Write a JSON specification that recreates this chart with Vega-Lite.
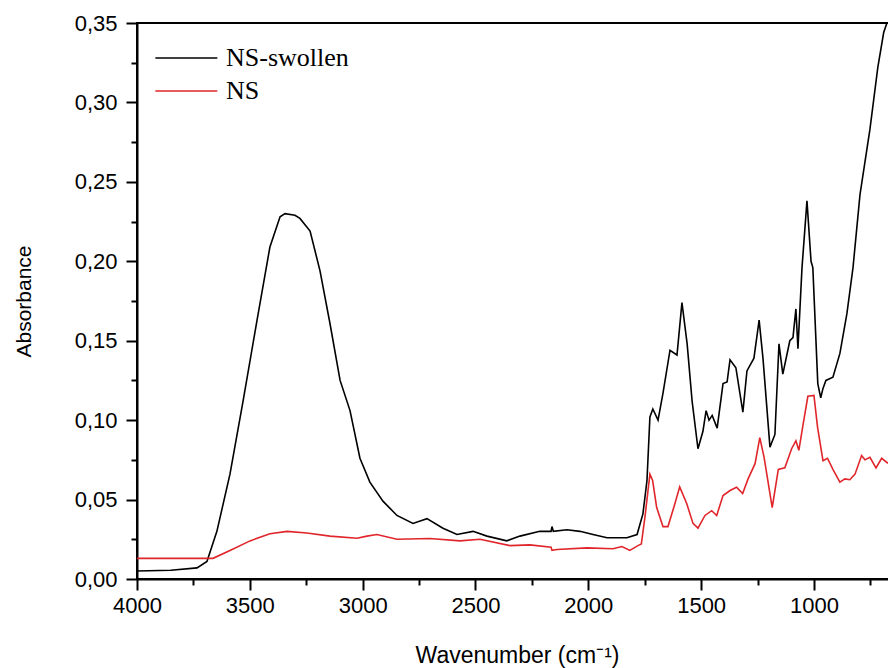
{
  "$schema": "https://vega.github.io/schema/vega-lite/v6.json",
  "autosize": "none",
  "padding": {"left": 137, "top": 23, "right": 0, "bottom": 89},
  "width": 760,
  "height": 556,
  "background": "white",
  "config": {
    "view": {"stroke": "#000000", "strokeWidth": 2},
    "font": "Liberation Sans"
  },
  "datasets": {
    "swollen": [
      {"w": 4000, "a": 0.005}, {"w": 3850, "a": 0.0055}, {"w": 3734, "a": 0.007}, {"w": 3690, "a": 0.011},
      {"w": 3646, "a": 0.030}, {"w": 3588, "a": 0.066}, {"w": 3530, "a": 0.112}, {"w": 3468, "a": 0.163},
      {"w": 3411, "a": 0.209}, {"w": 3366, "a": 0.228}, {"w": 3344, "a": 0.230}, {"w": 3300, "a": 0.229},
      {"w": 3278, "a": 0.227}, {"w": 3233, "a": 0.219}, {"w": 3189, "a": 0.194}, {"w": 3145, "a": 0.161},
      {"w": 3100, "a": 0.125}, {"w": 3056, "a": 0.106}, {"w": 3012, "a": 0.076}, {"w": 2968, "a": 0.061},
      {"w": 2910, "a": 0.049}, {"w": 2848, "a": 0.040}, {"w": 2777, "a": 0.035}, {"w": 2715, "a": 0.038},
      {"w": 2644, "a": 0.032}, {"w": 2582, "a": 0.028}, {"w": 2511, "a": 0.030}, {"w": 2449, "a": 0.027},
      {"w": 2361, "a": 0.024}, {"w": 2303, "a": 0.027}, {"w": 2215, "a": 0.030}, {"w": 2165, "a": 0.030},
      {"w": 2161, "a": 0.033}, {"w": 2155, "a": 0.030}, {"w": 2095, "a": 0.031}, {"w": 2037, "a": 0.030},
      {"w": 1979, "a": 0.028}, {"w": 1917, "a": 0.026}, {"w": 1829, "a": 0.026}, {"w": 1784, "a": 0.028},
      {"w": 1758, "a": 0.041}, {"w": 1740, "a": 0.062}, {"w": 1727, "a": 0.102}, {"w": 1714, "a": 0.107},
      {"w": 1691, "a": 0.100}, {"w": 1669, "a": 0.117}, {"w": 1638, "a": 0.144}, {"w": 1607, "a": 0.141},
      {"w": 1585, "a": 0.174}, {"w": 1562, "a": 0.148}, {"w": 1540, "a": 0.112}, {"w": 1514, "a": 0.082},
      {"w": 1492, "a": 0.093}, {"w": 1478, "a": 0.106}, {"w": 1465, "a": 0.100}, {"w": 1451, "a": 0.103},
      {"w": 1429, "a": 0.095}, {"w": 1403, "a": 0.123}, {"w": 1385, "a": 0.124}, {"w": 1372, "a": 0.138},
      {"w": 1346, "a": 0.133}, {"w": 1315, "a": 0.105}, {"w": 1297, "a": 0.131}, {"w": 1266, "a": 0.139},
      {"w": 1243, "a": 0.163}, {"w": 1226, "a": 0.139}, {"w": 1195, "a": 0.083}, {"w": 1173, "a": 0.091},
      {"w": 1155, "a": 0.148}, {"w": 1138, "a": 0.129}, {"w": 1107, "a": 0.150}, {"w": 1093, "a": 0.152},
      {"w": 1080, "a": 0.170}, {"w": 1071, "a": 0.145}, {"w": 1053, "a": 0.196}, {"w": 1031, "a": 0.238},
      {"w": 1013, "a": 0.200}, {"w": 1005, "a": 0.196}, {"w": 983, "a": 0.123}, {"w": 970, "a": 0.114},
      {"w": 960, "a": 0.120}, {"w": 947, "a": 0.125}, {"w": 916, "a": 0.127}, {"w": 885, "a": 0.142},
      {"w": 854, "a": 0.167}, {"w": 827, "a": 0.196}, {"w": 796, "a": 0.242}, {"w": 752, "a": 0.283},
      {"w": 717, "a": 0.322}, {"w": 691, "a": 0.344}, {"w": 672, "a": 0.352}
    ],
    "ns": [
      {"w": 4000, "a": 0.013}, {"w": 3800, "a": 0.013}, {"w": 3663, "a": 0.013}, {"w": 3588, "a": 0.018},
      {"w": 3499, "a": 0.024}, {"w": 3411, "a": 0.0285}, {"w": 3335, "a": 0.030}, {"w": 3247, "a": 0.029},
      {"w": 3145, "a": 0.027}, {"w": 3025, "a": 0.0257}, {"w": 2981, "a": 0.027}, {"w": 2937, "a": 0.028},
      {"w": 2848, "a": 0.025}, {"w": 2702, "a": 0.0255}, {"w": 2569, "a": 0.024}, {"w": 2480, "a": 0.025},
      {"w": 2347, "a": 0.021}, {"w": 2259, "a": 0.0215}, {"w": 2165, "a": 0.020}, {"w": 2161, "a": 0.018},
      {"w": 2139, "a": 0.0186}, {"w": 2006, "a": 0.0196}, {"w": 1891, "a": 0.019}, {"w": 1851, "a": 0.0204},
      {"w": 1816, "a": 0.018}, {"w": 1780, "a": 0.021}, {"w": 1765, "a": 0.022}, {"w": 1749, "a": 0.039},
      {"w": 1727, "a": 0.066}, {"w": 1715, "a": 0.062}, {"w": 1697, "a": 0.045}, {"w": 1669, "a": 0.033},
      {"w": 1647, "a": 0.033}, {"w": 1616, "a": 0.0475}, {"w": 1595, "a": 0.058}, {"w": 1564, "a": 0.0475},
      {"w": 1536, "a": 0.035}, {"w": 1514, "a": 0.032}, {"w": 1483, "a": 0.040}, {"w": 1453, "a": 0.043},
      {"w": 1431, "a": 0.040}, {"w": 1403, "a": 0.0525}, {"w": 1372, "a": 0.0557}, {"w": 1343, "a": 0.0578},
      {"w": 1316, "a": 0.0538}, {"w": 1292, "a": 0.063}, {"w": 1261, "a": 0.0726}, {"w": 1240, "a": 0.089},
      {"w": 1221, "a": 0.0766}, {"w": 1185, "a": 0.045}, {"w": 1158, "a": 0.069}, {"w": 1129, "a": 0.070},
      {"w": 1099, "a": 0.082}, {"w": 1080, "a": 0.087}, {"w": 1067, "a": 0.081}, {"w": 1049, "a": 0.0966},
      {"w": 1027, "a": 0.115}, {"w": 1000, "a": 0.1155}, {"w": 984, "a": 0.0955}, {"w": 960, "a": 0.0745},
      {"w": 940, "a": 0.076}, {"w": 916, "a": 0.069}, {"w": 885, "a": 0.061}, {"w": 863, "a": 0.063},
      {"w": 841, "a": 0.0625}, {"w": 818, "a": 0.066}, {"w": 789, "a": 0.0777}, {"w": 774, "a": 0.075},
      {"w": 752, "a": 0.0766}, {"w": 725, "a": 0.070}, {"w": 700, "a": 0.076}, {"w": 672, "a": 0.0728}
    ]
  },
  "encoding": {
    "x": {
      "field": "w", "type": "quantitative",
      "scale": {"domain": [4000, 632], "nice": false, "zero": false},
      "axis": {
        "title": "Wavenumber (cm⁻¹)",
        "values": [4000, 3750, 3500, 3250, 3000, 2750, 2500, 2250, 2000, 1750, 1500, 1250, 1000, 750],
        "format": "d",
        "labelExpr": "datum.value % 500 === 0 ? datum.label : ''",
        "grid": false,
        "domainColor": "#000", "domainWidth": 2,
        "tickColor": "#000", "tickWidth": 2,
        "tickSize": {"condition": {"test": "datum.value % 500 === 0", "value": 11}, "value": 6},
        "labelFont": "Liberation Sans", "labelFontSize": 22, "labelColor": "#000", "labelPadding": 5,
        "labelFlush": false, "labelOverlap": false,
        "titleFont": "Liberation Sans", "titleFontSize": 23, "titleFontWeight": "normal", "titleColor": "#000",
        "titlePadding": 28
      }
    },
    "y": {
      "field": "a", "type": "quantitative",
      "scale": {"domain": [0, 0.35], "nice": false},
      "axis": {
        "title": "Absorbance",
        "values": [0, 0.025, 0.05, 0.075, 0.1, 0.125, 0.15, 0.175, 0.2, 0.225, 0.25, 0.275, 0.3, 0.325, 0.35],
        "labelExpr": "abs(datum.value*20 - round(datum.value*20)) < 0.001 ? replace(format(datum.value, '.2f'), '.', ',') : ''",
        "grid": false,
        "domainColor": "#000", "domainWidth": 2,
        "tickColor": "#000", "tickWidth": 2,
        "tickSize": {"condition": {"test": "abs(datum.value*20 - round(datum.value*20)) < 0.001", "value": 11}, "value": 6},
        "labelFont": "Liberation Sans", "labelFontSize": 22, "labelColor": "#000", "labelPadding": 9,
        "labelFlush": false, "labelOverlap": false,
        "titleFont": "Liberation Sans", "titleFontSize": 21, "titleFontWeight": "normal", "titleColor": "#000",
        "titlePadding": 40
      }
    },
    "color": {
      "field": "s", "type": "nominal",
      "scale": {"domain": ["NS-swollen", "NS"], "range": ["#000000", "#e0262b"]},
      "legend": {
        "title": null,
        "orient": "none",
        "legendX": 57,
        "legendY": 22,
        "symbolType": "M-5,0H1",
        "symbolSize": 427,
        "symbolStrokeWidth": 1.5,
        "labelFont": "Liberation Serif",
        "labelFontSize": 26,
        "labelColor": "#000",
        "labelOffset": 6,
        "rowPadding": 7
      }
    }
  },
  "layer": [
    {
      "data": {"name": "swollen"},
      "transform": [{"calculate": "'NS-swollen'", "as": "s"}],
      "mark": {"type": "line", "strokeWidth": 1.6, "clip": true}
    },
    {
      "data": {"name": "ns"},
      "transform": [{"calculate": "'NS'", "as": "s"}],
      "mark": {"type": "line", "strokeWidth": 1.6, "clip": true}
    }
  ]
}
